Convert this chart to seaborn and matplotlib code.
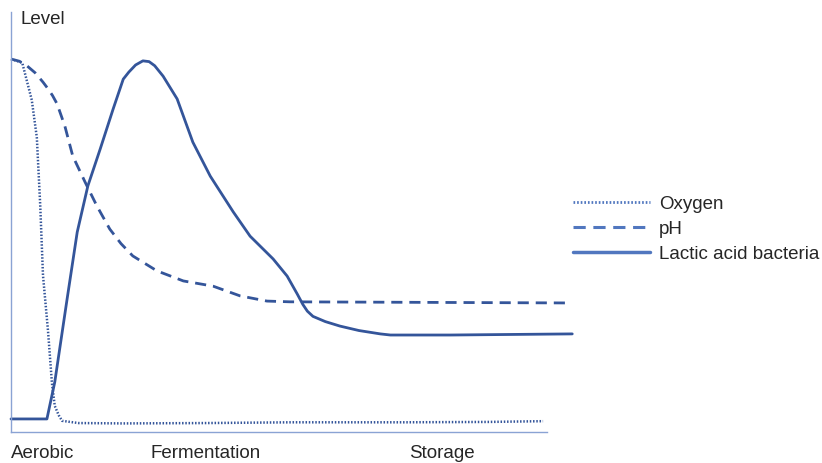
import pandas as pd
import matplotlib.pyplot as plt
import seaborn as sns
from matplotlib.lines import Line2D

# time axis (arbitrary units) and level (0-100)
oxygen_t = [0, 2, 3.7, 4.6, 5.2, 5.7, 6.6, 7.3, 7.8, 8.5, 9.1, 12, 20, 35, 50, 70, 85, 94.8]
oxygen_lvl = [100, 99, 89, 79, 61, 42, 27, 13, 7, 4.5, 3, 2.4, 2.3, 2.4, 2.6, 2.6, 2.7, 2.9]

ph_t = [0, 1.5, 2.9, 4.3, 5.7, 6.6, 7.4, 8.2, 9.6, 11.0, 13.2, 15.3, 17.6, 19.6, 21.7, 26.0, 30.7,
        36.0, 40.8, 45.6, 49.7, 98.8]
ph_lvl = [100, 99.4, 98.1, 96.3, 93.8, 92.0, 90.2, 88.0, 82.0, 74.0, 67.0, 60.6, 54.4, 50.5, 47.2,
          43.2, 40.5, 39.1, 36.5, 35.1, 34.9, 34.6]

lab_t = [0, 6.4, 7.8, 10.0, 11.8, 13.7, 15.9, 18.2, 20.0, 21.0, 22.2, 23.5, 24.6, 25.6, 27.1, 29.6,
         32.4, 35.5, 39.6, 42.6, 46.7, 49.2, 51.0, 52.0, 52.8, 53.8, 56.0, 58.6, 62.0, 65.8, 67.6,
         78.3, 100]
lab_lvl = [3.5, 3.5, 13.4, 35.7, 53.6, 66.0, 75.9, 86.6, 94.6, 96.5, 98.4, 99.5, 99.3, 98.2, 95.4,
           89.3, 77.7, 68.6, 59.0, 52.5, 46.4, 41.8, 37.0, 34.2, 32.4, 31.0, 29.6, 28.4, 27.2, 26.3,
           26.0, 26.0, 26.3]

phase_pos = [5.7, 34.6, 76.8]
phase_names = ['Aerobic', 'Fermentation', 'Storage']

series = ['Oxygen', 'pH', 'Lactic acid bacteria']

sns.set_style('white')
plt.rcParams['font.family'] = ['Liberation Sans', 'DejaVu Sans']

line_col = '#34559a'
leg_col = '#5177bf'
axis_col = '#8aa3d4'

fig = plt.figure(figsize=(8.22, 4.64), dpi=100)
ax = fig.add_axes([11 / 822, 31 / 464, 536 / 822, 420 / 464])

ox = pd.DataFrame({'t': oxygen_t, 'level': oxygen_lvl})
ph = pd.DataFrame({'t': ph_t, 'level': ph_lvl})
lab = pd.DataFrame({'t': lab_t, 'level': lab_lvl})

sns.lineplot(data=ox, x='t', y='level', ax=ax, color=line_col, lw=1.8,
             linestyle=(0, (0.6, 0.7)), clip_on=False)
sns.lineplot(data=ph, x='t', y='level', ax=ax, color=line_col, lw=2.0,
             linestyle=(0, (4, 2.5)), clip_on=False)
sns.lineplot(data=lab, x='t', y='level', ax=ax, color=line_col, lw=2.0, clip_on=False)

ax.set_xlim(0, 95.5)
ax.set_ylim(0, 112.6)
ax.set_yticks([])
ax.set_xticks(phase_pos)
ax.set_xticklabels(phase_names, fontsize=13.5)
ax.tick_params(axis='x', length=0, pad=8.5)
ax.set_xlabel('')
ax.set_ylabel('')
for s in ['top', 'right']:
    ax.spines[s].set_visible(False)
for s in ['left', 'bottom']:
    ax.spines[s].set_color(axis_col)
    ax.spines[s].set_linewidth(1.0)

fig.text(20 / 822, 1 - 19 / 464, 'Level', fontsize=13.5, va='center', ha='left')

handles = [
    Line2D([], [], color=leg_col, lw=2.0, linestyle=(0, (0.6, 0.7))),
    Line2D([], [], color=leg_col, lw=2.2, linestyle=(0, (4, 2.5))),
    Line2D([], [], color=leg_col, lw=2.5),
]
fig.legend(handles, series, loc='upper left', bbox_to_anchor=(573 / 822, 1 - 196 / 464),
           frameon=False, fontsize=13.5, handlelength=4.1, handletextpad=0.5,
           labelspacing=0.42, borderaxespad=0, borderpad=0)

fig.savefig('out.png', dpi=100)
